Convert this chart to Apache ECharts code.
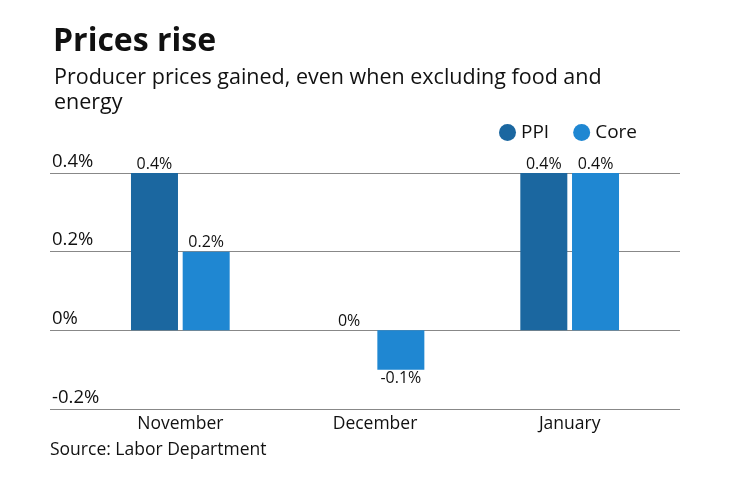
<!DOCTYPE html>
<html><head><meta charset="utf-8">
<script src="https://cdn.jsdelivr.net/npm/echarts@6/dist/echarts.min.js"></script>
<style>html,body{margin:0;padding:0;background:#fff}#c{width:740px;height:482px}</style>
</head><body><div id="c"></div>
<script>
const categories = ['November', 'December', 'January'];
const ppiValues = [0.4, 0, 0.4];
const coreValues = [0.2, -0.1, 0.4];
const yTicks = [-0.2, 0, 0.2, 0.4];

const FONT = 'Open Sans';
const chart = echarts.init(document.getElementById('c'));
const fmt = v => (Math.round(v * 10) / 10) + '%';
chart.setOption({
  backgroundColor: '#fff',
  animation: false,
  textStyle: { fontFamily: FONT, color: '#111' },
  title: [
    { text: 'Prices rise', left: 48, top: 21, textStyle: { fontFamily: FONT, fontSize: 32, fontWeight: 'bold', color: '#111' } },
    { text: 'Producer prices gained, even when excluding food and\nenergy', left: 49, top: 60,
      textStyle: { fontFamily: FONT, fontSize: 21.5, fontWeight: 'normal', color: '#111', lineHeight: 25 } }
  ],
  legend: {
    right: 98, top: 118, icon: 'circle', itemWidth: 17, itemHeight: 17, itemGap: 24, itemTextGap: 10,
    textStyle: { fontFamily: FONT, fontSize: 19, color: '#111' },
    data: ['PPI', 'Core']
  },
  grid: [
    { left: 50, right: 60, top: 173, bottom: 73 },
    { left: 83, right: 73, top: 173, bottom: 73 }
  ],
  xAxis: [
    { gridIndex: 0, type: 'value', min: 0, max: 1, show: false },
    { gridIndex: 1, type: 'category', data: categories,
      axisLine: { show: false }, axisTick: { show: false },
      axisLabel: { fontFamily: FONT, fontSize: 17.5, color: '#111', margin: 6 } }
  ],
  yAxis: [
    { gridIndex: 0, type: 'value', min: -0.2, max: 0.4, interval: 0.2,
      axisLine: { show: false }, axisTick: { show: false },
      splitLine: { lineStyle: { color: '#888', width: 1 } },
      axisLabel: { inside: true, align: 'left', verticalAlign: 'bottom', margin: 2, padding: [0, 0, 2, 0],
        fontFamily: FONT, fontSize: 18.5, color: '#111', formatter: v => fmt(v) } },
    { gridIndex: 1, type: 'value', min: -0.2, max: 0.4, interval: 0.2, show: false, splitLine: { show: false } }
  ],
  series: [
    { name: 'PPI', type: 'bar', xAxisIndex: 1, yAxisIndex: 1, data: ppiValues, barWidth: 47, barGap: '10%',
      itemStyle: { color: '#1b67a0' },
      label: { show: true, position: 'top', distance: 1, fontFamily: FONT, fontSize: 16, color: '#111', formatter: p => fmt(p.value) } },
    { name: 'Core', type: 'bar', xAxisIndex: 1, yAxisIndex: 1, barWidth: 47, barGap: '10%',
      data: coreValues.map(v => v < 0 ? { value: v, label: { position: 'bottom' } } : v),
      itemStyle: { color: '#1f87d2' },
      label: { show: true, position: 'top', distance: 1, fontFamily: FONT, fontSize: 16, color: '#111', formatter: p => fmt(p.value) } },
    { type: 'scatter', xAxisIndex: 0, yAxisIndex: 0, data: [], silent: true }
  ],
  graphic: [
    { type: 'text', left: 50, top: 441, style: { text: 'Source: Labor Department', font: '17.5px ' + FONT, fill: '#111' } }
  ]
});
</script></body></html>
